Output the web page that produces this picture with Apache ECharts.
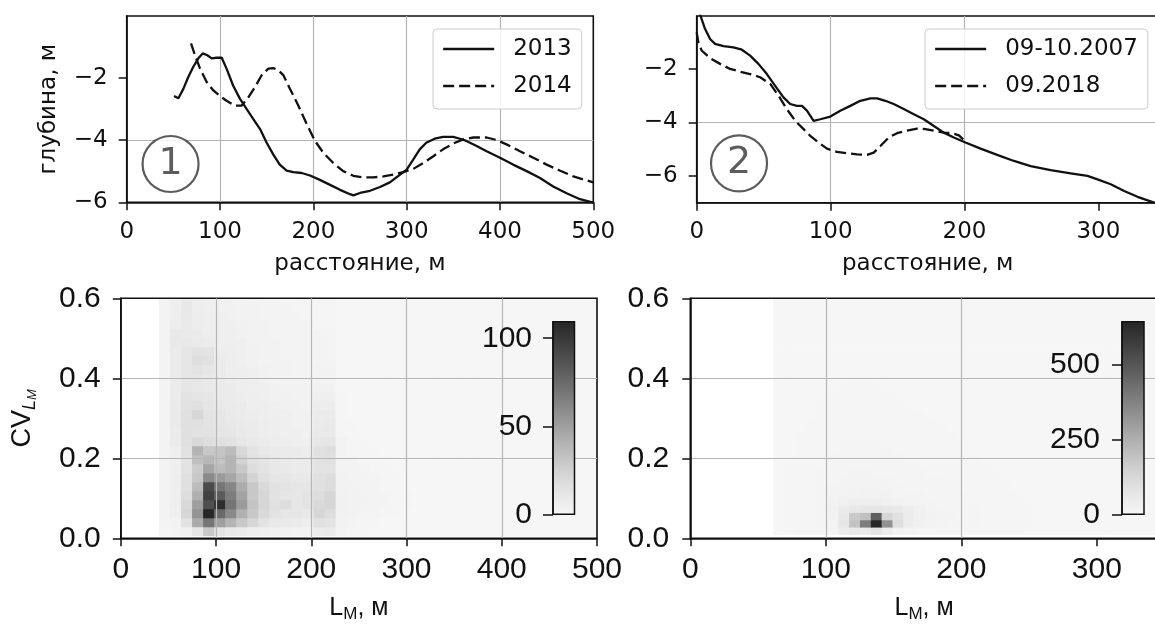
<!DOCTYPE html>
<html><head><meta charset="utf-8">
<script src="https://cdn.jsdelivr.net/npm/echarts@6/dist/echarts.min.js"></script>
<style>html,body{margin:0;padding:0;background:#fff}#c{width:1155px;height:624px}</style>
</head><body><div id="c"></div>
<script>
// ---------- Panel 1: profiles 2013 / 2014 (distance, m ; depth, m)
const dist2013 = [50.7,55.4,60.7,66,71.4,76.8,81.4,86.4,91,96.4,101.8,107,114,121.4,128.6,135.7,142.9,150,157,164,171.4,178.6,187.5,196.4,207,217.9,228.6,239.3,242.9,250,260.7,271.4,282,292.9,300,307,314,321,330,339,350,357,364,375,385.7,400,414,428.6,442.9,457,471.4,485.7,500];
const depth2013 = [-2.59,-2.66,-2.36,-1.98,-1.65,-1.38,-1.22,-1.28,-1.38,-1.36,-1.36,-1.71,-2.25,-2.68,-3.01,-3.33,-3.65,-4.09,-4.46,-4.79,-4.98,-5.03,-5.06,-5.14,-5.28,-5.44,-5.6,-5.74,-5.78,-5.7,-5.63,-5.51,-5.36,-5.11,-4.95,-4.63,-4.3,-4.09,-3.96,-3.9,-3.9,-3.96,-4.03,-4.19,-4.36,-4.57,-4.79,-5.0,-5.22,-5.49,-5.71,-5.9,-6.01];
const dist2014 = [68.9,73.2,78.6,85.7,92.9,100,107,116,123,130.4,137.5,144.6,151.8,157,162.5,167.9,175,184,192.9,201.8,210.7,221.4,232,242.9,253.6,264,275,285.7,296.4,307,317.9,328.6,339,350,360.7,371.4,385.7,396.4,407,421.4,435.7,450,464,478.6,500];
const depth2014 = [-0.9,-1.28,-1.71,-2.14,-2.41,-2.59,-2.74,-2.9,-2.9,-2.63,-2.3,-1.92,-1.71,-1.69,-1.76,-1.92,-2.36,-2.9,-3.49,-4.03,-4.41,-4.74,-5.0,-5.15,-5.2,-5.2,-5.17,-5.11,-5.03,-4.93,-4.74,-4.52,-4.3,-4.11,-3.98,-3.92,-3.92,-4.0,-4.14,-4.36,-4.57,-4.79,-4.98,-5.17,-5.36];

// ---------- Panel 2: profiles 09-10.2007 / 09.2018
const dist2007 = [0,6.2,10,13.7,20,27.4,33.7,39.9,46.1,52.4,58.6,64.8,69.8,74.8,78.6,82.3,87.3,92.3,99.8,107.2,114.7,122.2,129.7,134.7,140.9,147.1,154.6,162.1,169.6,177.1,184.5,192,200.7,212,224.4,236.9,249.4,264.3,279.3,291.8,299.3,309.2,319.2,329.2,341.6,346];
const depth2007 = [0.4,-0.5,-0.88,-1.06,-1.15,-1.19,-1.28,-1.5,-1.81,-2.19,-2.63,-3.06,-3.31,-3.38,-3.38,-3.56,-3.94,-3.88,-3.78,-3.56,-3.38,-3.19,-3.1,-3.1,-3.19,-3.31,-3.5,-3.69,-3.88,-4.13,-4.38,-4.56,-4.75,-4.98,-5.21,-5.44,-5.63,-5.78,-5.9,-6.0,-6.13,-6.31,-6.56,-6.78,-7.0,-7.08];
const dist2018 = [0,1.2,3.7,10,17.5,24.9,32.4,39.9,47.4,54.9,61.1,67.3,73.6,79.8,84.8,91,97.3,104.7,112.2,119.7,127.2,132.2,137.2,143.5,149.6,157.1,164.6,170.8,177.1,184.5,190.8,195.8,199];
const depth2018 = [-0.63,-1.0,-1.31,-1.6,-1.81,-2.0,-2.1,-2.19,-2.31,-2.56,-3.0,-3.5,-3.94,-4.25,-4.5,-4.75,-4.98,-5.1,-5.15,-5.19,-5.21,-5.13,-4.88,-4.56,-4.4,-4.31,-4.23,-4.25,-4.31,-4.38,-4.4,-4.48,-4.63];

// ---------- 2D histograms: bin edges and counts (rows from lowest CV upwards, columns from lowest L)
const histL_x0 = 40, histL_dx = 11.6, histL_y0 = 0.0066, histL_dy = 0.0225, histL_n = 40;
const countsL = [
 [1,2,4,12,30,14,10,8,6,5,4,4,3,3,8,9,2,1,1,0,0,0,0],
 [2,3,14,45,70,50,40,30,22,14,10,9,8,7,16,14,3,2,1,1,0,0,0],
 [2,5,22,55,109,75,60,42,30,20,15,12,12,10,22,18,4,3,2,2,1,1,0],
 [2,6,20,50,88,105,70,52,32,22,16,18,12,14,20,22,4,3,3,2,2,1,1],
 [2,6,18,42,95,82,66,48,30,22,15,12,12,14,18,22,4,3,3,2,2,1,1],
 [2,6,16,36,90,70,62,44,30,20,15,14,12,12,16,18,3,3,2,2,1,1,0],
 [2,6,16,30,60,52,46,36,24,16,12,12,10,10,16,18,3,2,2,2,1,1,0],
 [2,5,14,28,46,36,40,30,18,14,11,10,8,8,14,14,2,2,2,1,1,0,0],
 [2,5,14,34,38,32,40,24,16,13,10,9,8,8,15,16,2,2,1,1,1,0,0],
 [2,6,15,40,30,32,36,20,14,11,9,8,8,7,16,18,2,1,1,1,0,0,0],
 [2,8,16,20,18,16,15,12,10,8,7,6,5,5,12,12,2,1,1,0,0,0,0],
 [2,8,16,15,15,13,12,10,8,7,6,5,5,4,10,10,1,1,0,0,0,0,0],
 [2,9,16,16,14,12,11,9,8,7,6,5,4,4,9,10,1,1,0,0,0,0,0],
 [2,9,16,22,14,12,10,8,7,6,5,5,4,4,8,8,1,0,0,0,0,0,0],
 [2,9,15,16,13,10,9,8,6,6,5,4,4,3,7,7,1,0,0,0,0,0,0],
 [2,8,14,13,12,9,8,7,6,5,4,4,3,3,5,5,1,0,0,0,0,0,0],
 [2,8,12,11,10,9,8,6,5,5,4,3,3,3,4,4,0,0,0,0,0,0,0],
 [2,8,12,12,10,8,7,6,5,4,3,3,3,2,3,3,0,0,0,0,0,0,0],
 [2,8,12,14,12,8,6,6,5,4,3,3,2,2,3,3,0,0,0,0,0,0,0],
 [2,8,12,17,16,8,6,5,4,3,3,3,2,2,2,2,0,0,0,0,0,0,0],
 [2,8,12,15,14,7,6,5,4,3,3,2,2,2,2,2,0,0,0,0,0,0,0],
 [2,10,11,9,8,6,5,5,4,3,3,2,2,2,2,2,0,0,0,0,0,0,0],
 [2,10,9,8,7,6,5,4,3,3,2,2,2,2,2,2,0,0,0,0,0,0,0],
 [2,7,9,7,6,5,5,4,3,3,2,2,2,2,1,1,0,0,0,0,0,0,0],
 [2,6,10,7,6,5,4,3,3,2,2,2,2,1,1,1,0,0,0,0,0,0,0],
 [2,6,11,6,5,4,4,3,3,2,2,2,1,1,1,1,0,0,0,0,0,0,0],
 [2,5,9,6,5,4,3,3,2,2,2,1,1,1,1,1,0,0,0,0,0,0,0]
];
const histR_x0 = 61.2, histR_dx = 8.0, histR_y0 = 0.01, histR_dy = 0.0183, histR_n = 40;
const countsR = [
 [2,2,3,4,5,8,40,60,45,80,40,18,12,10,8,6,6,5,5,4,3,3,3,2,2,2],
 [2,3,4,5,8,15,70,190,390,640,330,100,40,22,15,12,10,8,7,6,5,4,3,3,2,2],
 [2,3,4,5,8,18,60,170,200,470,130,90,45,25,18,14,12,10,8,6,5,4,3,3,2,2],
 [2,3,4,6,10,22,50,65,70,70,65,60,40,22,15,12,10,8,7,6,5,4,3,3,2,2],
 [2,3,4,6,10,18,28,34,38,34,28,22,16,14,12,10,9,8,6,5,4,4,3,2,2,2],
 [2,3,4,5,9,14,18,20,22,20,18,15,12,12,10,9,8,7,5,4,4,3,3,2,2,2],
 [2,3,4,5,8,12,15,16,18,16,15,12,10,10,9,8,7,6,5,4,3,3,2,2,2,2],
 [2,3,4,5,7,10,12,14,14,13,12,10,9,8,8,7,6,5,4,4,3,3,2,2,2,1],
 [2,3,4,5,7,9,10,12,12,11,10,9,8,7,6,6,5,4,4,3,3,2,2,2,1,1],
 [2,3,4,5,6,8,9,10,10,10,9,8,7,6,6,5,4,4,3,3,2,2,2,1,1,1],
 [1,2,3,4,5,7,8,9,9,8,8,7,6,5,5,4,4,3,3,2,2,2,1,1,1,1],
 [1,2,3,4,5,6,7,8,8,8,7,6,5,5,4,4,3,3,2,2,2,1,1,1,1,1],
 [1,2,3,4,5,6,7,7,7,7,6,6,5,4,4,3,3,3,2,2,2,1,1,1,1,1],
 [1,2,3,3,4,5,6,6,6,6,5,5,4,4,3,3,3,2,2,2,1,1,1,1,1,0],
 [1,2,2,3,4,5,5,6,6,5,5,4,4,3,3,3,2,2,2,1,1,1,1,1,0,0],
 [1,1,2,3,3,4,5,5,5,5,4,4,3,3,3,2,2,2,1,1,1,1,1,0,0,0],
 [1,1,2,2,3,4,4,4,4,4,4,3,3,3,2,2,2,1,1,1,1,1,0,0,0,0],
 [1,1,2,2,3,3,4,4,4,4,3,3,3,2,2,2,1,1,1,1,1,0,0,0,0,0],
 [1,1,1,2,3,3,3,3,3,3,3,3,2,2,2,1,1,1,1,1,0,0,0,0,0,0],
 [1,1,1,2,2,3,3,3,3,3,3,2,2,2,1,1,1,1,1,0,0,0,0,0,0,0],
 [0,1,1,2,2,2,3,3,3,3,2,2,2,1,1,1,1,1,0,0,0,0,0,0,0,0],
 [0,1,1,1,2,2,2,3,3,2,2,2,1,1,1,1,1,0,0,0,0,0,0,0,0,0],
 [0,1,1,1,2,2,2,2,2,2,2,1,1,1,1,1,0,0,0,0,0,0,0,0,0,0],
 [0,0,1,1,1,2,2,2,2,2,1,1,1,1,1,0,0,0,0,0,0,0,0,0,0,0]
];
const cbMaxL = 109.4, cbMaxR = 645;
const cbTicksL = [0, 50, 100], cbTicksR = [0, 250, 500];

// ---------- styles
const FD = 'DejaVu Sans', FL = 'Liberation Sans';
const INK = '#111111';
const greys = ['#f6f6f6','#e4e4e4','#cdcdcd','#b2b2b2','#959595','#787878','#5b5b5b','#404040','#262626'];

function pairs(xs, ys) { return xs.map((x, i) => [x, ys[i]]); }
function histCells(x0, dx, y0, dy, n, counts) {
  const out = [];
  for (let j = 0; j < n; j++) for (let i = 0; i < n; i++) {
    const row = counts[j];
    const v = (row && row[i] !== undefined) ? row[i] : 0;
    out.push([x0 + i * dx, y0 + j * dy, v]);
  }
  return out;
}
function cellRenderer(dx, dy) {
  return function (params, api) {
    const x = api.value(0), y = api.value(1);
    const p0 = api.coord([x, y + dy]);
    const p1 = api.coord([x + dx, y]);
    const cs = params.coordSys;
    const r = echarts.graphic.clipRectByRect(
      { x: p0[0], y: p0[1], width: p1[0] - p0[0] + 0.6, height: p1[1] - p0[1] + 0.6 },
      { x: cs.x, y: cs.y, width: cs.width, height: cs.height });
    if (!r) return;
    return { type: 'rect', shape: r, style: { fill: api.visual('color') } };
  };
}
function colorbarRenderer(params, api) {
  const p0 = api.coord([0, api.value(1)]);
  const p1 = api.coord([1, 0]);
  const stops = greys.map((c, i) => ({ offset: i / (greys.length - 1), color: c }));
  return { type: 'rect', shape: { x: p0[0], y: p0[1], width: p1[0] - p0[0], height: p1[1] - p0[1] },
    style: { fill: new echarts.graphic.LinearGradient(0, 1, 0, 0, stops), stroke: INK, lineWidth: 1.5 } };
}
const minus = s => String(s).replace('-', '\u2212');
const isMult = (v, m) => Math.abs(v / m - Math.round(v / m)) < 1e-6;

const gridLine = { show: true, showMinLine: false, showMaxLine: false, lineStyle: { color: '#b5b5b5', width: 1.2 } };
function axisBase(extra) {
  return Object.assign({
    type: 'value',
    axisLine: { show: true, onZero: false, lineStyle: { color: INK, width: 1.6 } },
    axisTick: { show: true, inside: false, length: 8, lineStyle: { color: INK, width: 1.5 } },
    splitLine: gridLine
  }, extra);
}
const gridFrame = { show: true, borderColor: INK, borderWidth: 1.6, backgroundColor: 'transparent', containLabel: false, outerBoundsMode: 'none' };
const legendBase = { orient: 'vertical', itemWidth: 51, itemHeight: 14, itemGap: 11,
  padding: [7, 10, 10, 9], backgroundColor: 'rgba(255,255,255,0.85)', borderColor: '#cccccc', borderWidth: 1, borderRadius: 4,
  itemStyle: { color: 'transparent', borderWidth: 0, opacity: 0 },
  lineStyle: { width: 2.3 },
  textStyle: { fontFamily: FD, fontSize: 23, color: INK, lineHeight: 26, padding: [0, 0, 0, 14] } };

const option = {
  animation: false,
  textStyle: { fontFamily: FD, color: INK },
  grid: [
    Object.assign({ left: 126.7, top: 16, width: 466.6, height: 186.3 }, gridFrame),
    Object.assign({ left: 696.7, top: 16, width: 462, height: 186.7 }, gridFrame),
    Object.assign({ left: 120.8, top: 298.3, width: 476.2, height: 240 }, gridFrame),
    Object.assign({ left: 690.3, top: 298.3, width: 467.5, height: 240 }, gridFrame),
    { left: 553, top: 321.7, width: 21.5, height: 192.6, show: false, containLabel: false, outerBoundsMode: 'none' },
    { left: 1122, top: 321.7, width: 22, height: 192.6, show: false, containLabel: false, outerBoundsMode: 'none' }
  ],
  xAxis: [
    axisBase({ gridIndex: 0, min: 0, max: 500, interval: 100,
      axisLabel: { fontFamily: FD, fontSize: 23, color: INK, margin: 18 },
      name: 'расстояние, м', nameLocation: 'middle', nameGap: 50,
      nameTextStyle: { fontFamily: FD, fontSize: 23, color: INK } }),
    axisBase({ gridIndex: 1, min: 0, max: 345, interval: 100,
      axisTick: { show: true, length: 8, customValues: [0, 100, 200, 300], lineStyle: { color: INK, width: 1.5 } },
      axisLabel: { fontFamily: FD, fontSize: 23, color: INK, margin: 18, formatter: v => isMult(v, 100) ? String(v) : '' },
      name: 'расстояние, м', nameLocation: 'middle', nameGap: 50,
      nameTextStyle: { fontFamily: FD, fontSize: 23, color: INK } }),
    axisBase({ gridIndex: 2, min: 0, max: 500, interval: 100, z: 1,
      axisLabel: { fontFamily: FL, fontSize: 30, color: INK, margin: 16 },
      name: '{a|L}{b|M}{a|, м}', nameLocation: 'middle', nameGap: 55,
      nameTextStyle: { rich: { a: { fontFamily: FL, fontSize: 25, color: INK, lineHeight: 30 },
                               b: { fontFamily: FL, fontSize: 17, color: INK, lineHeight: 16, verticalAlign: 'bottom' } } } }),
    axisBase({ gridIndex: 3, min: 0, max: 345, interval: 100, z: 1,
      axisTick: { show: true, length: 8, customValues: [0, 100, 200, 300], lineStyle: { color: INK, width: 1.5 } },
      axisLabel: { fontFamily: FL, fontSize: 30, color: INK, margin: 16, formatter: v => isMult(v, 100) ? String(v) : '' },
      name: '{a|L}{b|M}{a|, м}', nameLocation: 'middle', nameGap: 55,
      nameTextStyle: { rich: { a: { fontFamily: FL, fontSize: 25, color: INK, lineHeight: 30 },
                               b: { fontFamily: FL, fontSize: 17, color: INK, lineHeight: 16, verticalAlign: 'bottom' } } } }),
    { type: 'value', gridIndex: 4, min: 0, max: 1, show: false },
    { type: 'value', gridIndex: 5, min: 0, max: 1, show: false }
  ],
  yAxis: [
    axisBase({ gridIndex: 0, min: -6, max: -0.02, interval: 2,
      axisTick: { show: true, length: 8, customValues: [-6, -4, -2], lineStyle: { color: INK, width: 1.5 } },
      axisLabel: { fontFamily: FD, fontSize: 23, color: INK, margin: 19, formatter: v => isMult(v, 2) ? minus(v) : '' },
      name: 'глубина, м', nameLocation: 'middle', nameRotate: 90, nameGap: 66,
      nameTextStyle: { fontFamily: FD, fontSize: 23, color: INK } }),
    axisBase({ gridIndex: 1, min: -7, max: -0.02, splitNumber: 3,
      axisTick: { show: true, length: 8, customValues: [-6, -4, -2], lineStyle: { color: INK, width: 1.5 } },
      axisLabel: { fontFamily: FD, fontSize: 23, color: INK, margin: 19, formatter: v => isMult(v, 2) ? minus(v) : '' } }),
    axisBase({ gridIndex: 2, min: 0, max: 0.6, interval: 0.2, z: 1,
      axisLabel: { fontFamily: FL, fontSize: 30, color: INK, margin: 20, formatter: v => isMult(v, 0.2) ? v.toFixed(1) : '' },
      name: '{a|CV}{b|L}{c|M}', nameLocation: 'middle', nameRotate: 90, nameGap: 82,
      nameTextStyle: { rich: { a: { fontFamily: FL, fontSize: 27, color: INK, lineHeight: 32 },
                               b: { fontFamily: FL, fontSize: 18, fontStyle: 'italic', color: INK, lineHeight: 20, verticalAlign: 'bottom' },
                               c: { fontFamily: FL, fontSize: 13, fontStyle: 'italic', color: INK, lineHeight: 11, verticalAlign: 'bottom' } } } }),
    axisBase({ gridIndex: 3, min: 0, max: 0.6, interval: 0.2, z: 1,
      axisLabel: { fontFamily: FL, fontSize: 30, color: INK, margin: 21, formatter: v => isMult(v, 0.2) ? v.toFixed(1) : '' } }),
    { type: 'value', gridIndex: 4, min: 0, max: cbMaxL, interval: 50, position: 'left', z: 8,
      axisLine: { show: true, onZero: false, lineStyle: { color: INK, width: 1.5 } },
      axisTick: { show: true, length: 10, customValues: cbTicksL, lineStyle: { color: INK, width: 1.5 } },
      axisLabel: { fontFamily: FL, fontSize: 30, color: INK, margin: 21, customValues: cbTicksL, formatter: v => isMult(v, 50) ? String(v) : '' },
      splitLine: { show: false } },
    { type: 'value', gridIndex: 5, min: 0, max: cbMaxR, interval: 250, position: 'left', z: 8,
      axisLine: { show: true, onZero: false, lineStyle: { color: INK, width: 1.5 } },
      axisTick: { show: true, length: 10, customValues: cbTicksR, lineStyle: { color: INK, width: 1.5 } },
      axisLabel: { fontFamily: FL, fontSize: 30, color: INK, margin: 22, customValues: cbTicksR, formatter: v => isMult(v, 250) ? String(v) : '' },
      splitLine: { show: false } }
  ],
  legend: [
    Object.assign({ data: ['2013', '2014'], left: 433, top: 29 }, legendBase),
    Object.assign({ data: ['09-10.2007', '09.2018'], left: 925, top: 29 }, legendBase)
  ],
  visualMap: [
    { type: 'continuous', show: false, seriesIndex: 4, dimension: 2, min: 0, max: cbMaxL, inRange: { color: greys } },
    { type: 'continuous', show: false, seriesIndex: 5, dimension: 2, min: 0, max: cbMaxR, inRange: { color: greys } }
  ],
  series: [
    { name: '2013', type: 'line', xAxisIndex: 0, yAxisIndex: 0, data: pairs(dist2013, depth2013), showSymbol: false, symbol: 'none',
      lineStyle: { color: INK, width: 2.3, type: 'solid' }, itemStyle: { color: INK } },
    { name: '2014', type: 'line', xAxisIndex: 0, yAxisIndex: 0, data: pairs(dist2014, depth2014), showSymbol: false, symbol: 'none',
      lineStyle: { color: INK, width: 2.3, type: [11, 5] }, itemStyle: { color: INK } },
    { name: '09-10.2007', type: 'line', xAxisIndex: 1, yAxisIndex: 1, data: pairs(dist2007, depth2007), showSymbol: false, symbol: 'none',
      lineStyle: { color: INK, width: 2.3, type: 'solid' }, itemStyle: { color: INK } },
    { name: '09.2018', type: 'line', xAxisIndex: 1, yAxisIndex: 1, data: pairs(dist2018, depth2018), showSymbol: false, symbol: 'none',
      lineStyle: { color: INK, width: 2.3, type: [11, 5] }, itemStyle: { color: INK } },
    { name: 'histL', type: 'custom', xAxisIndex: 2, yAxisIndex: 2, z: -1, encode: { x: 0, y: 1 },
      renderItem: cellRenderer(histL_dx, histL_dy), data: histCells(histL_x0, histL_dx, histL_y0, histL_dy, histL_n, countsL) },
    { name: 'histR', type: 'custom', xAxisIndex: 3, yAxisIndex: 3, z: -1, encode: { x: 0, y: 1 },
      renderItem: cellRenderer(histR_dx, histR_dy), data: histCells(histR_x0, histR_dx, histR_y0, histR_dy, histR_n, countsR) },
    { name: 'cbL', type: 'custom', xAxisIndex: 4, yAxisIndex: 4, z: 6, renderItem: colorbarRenderer, data: [[0, cbMaxL]] },
    { name: 'cbR', type: 'custom', xAxisIndex: 5, yAxisIndex: 5, z: 6, renderItem: colorbarRenderer, data: [[0, cbMaxR]] },
    { name: 'mark1', type: 'scatter', xAxisIndex: 0, yAxisIndex: 0, z: 3, data: [[47, -4.77]], symbol: 'circle', symbolSize: 56,
      itemStyle: { color: '#ffffff', borderColor: '#333333', borderWidth: 2.2 },
      label: { show: true, position: 'inside', formatter: '1', fontFamily: FD, fontSize: 38, color: '#333333' } },
    { name: 'mark2', type: 'scatter', xAxisIndex: 1, yAxisIndex: 1, z: 3, data: [[31.6, -5.53]], symbol: 'circle', symbolSize: 56,
      itemStyle: { color: '#ffffff', borderColor: '#333333', borderWidth: 2.2 },
      label: { show: true, position: 'inside', formatter: '2', fontFamily: FD, fontSize: 38, color: '#333333' } }
  ]
};
const chart = echarts.init(document.getElementById('c'), null, { renderer: 'canvas' });
chart.setOption(option);
</script>
</body></html>
